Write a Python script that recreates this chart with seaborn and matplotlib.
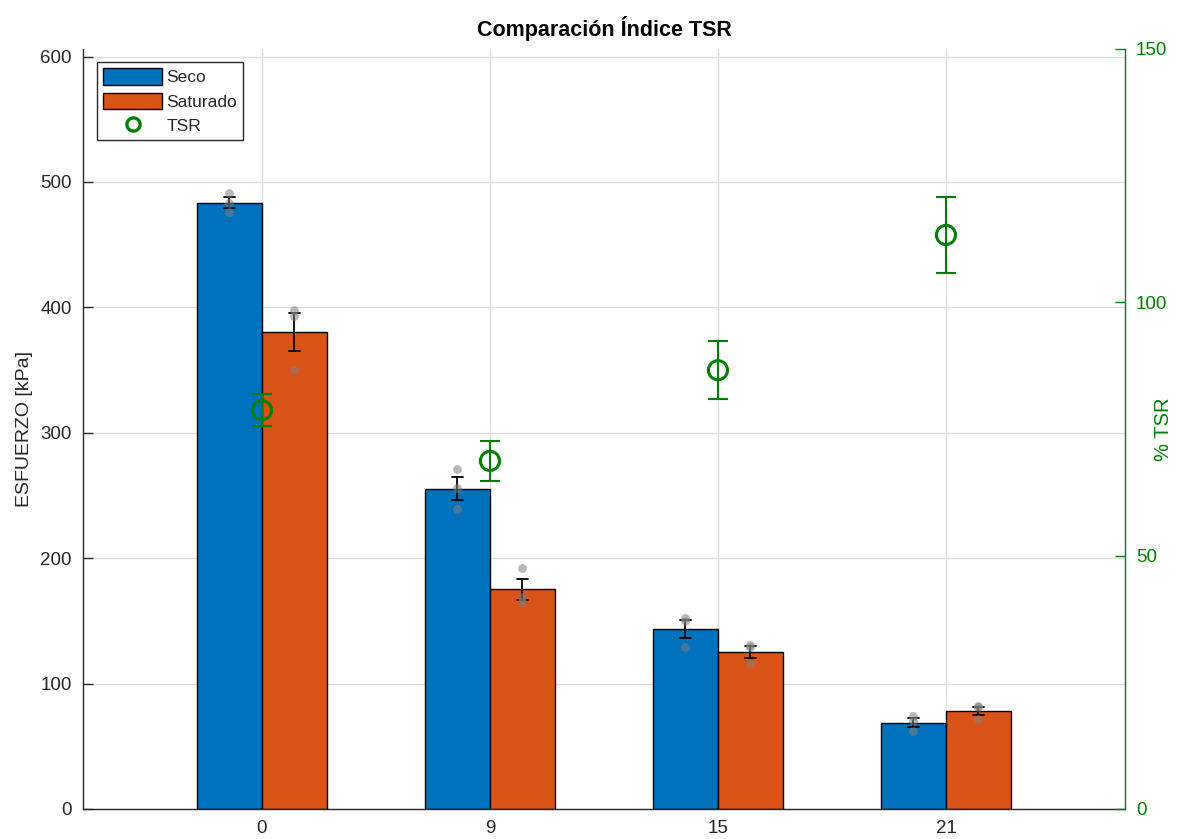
import pandas as pd
import matplotlib
matplotlib.use("Agg")
import matplotlib.pyplot as plt
import seaborn as sns
from matplotlib.patches import Patch
from matplotlib.lines import Line2D

# Data
categories = ["0", "9", "15", "21"]
seco_points = [[491, 483, 476], [271, 256, 239], [152, 150, 129], [74, 70, 62]]
saturado_points = [[398, 393, 350], [192, 169, 165], [131, 129, 116], [82, 81, 72]]
tsr_mean = [78.7, 68.7, 86.6, 113.3]
tsr_err = [3.2, 4.0, 5.7, 7.5]

BLUE = "#0072BD"
ORANGE = "#D95319"
GREEN = "#008000"
DARK = "#262626"
BAR_W = 0.57

rows = []
for i, (cat, pts) in enumerate(zip(categories, seco_points)):
    for p in pts:
        rows.append({"Grupo": cat, "Condicion": "Seco", "Esfuerzo": p, "pos": i - BAR_W / 4})
for i, (cat, pts) in enumerate(zip(categories, saturado_points)):
    for p in pts:
        rows.append({"Grupo": cat, "Condicion": "Saturado", "Esfuerzo": p, "pos": i + BAR_W / 4})
df = pd.DataFrame(rows)

sns.set_theme(style="whitegrid")
plt.rcParams["font.family"] = ["Liberation Sans", "DejaVu Sans"]

fig = plt.figure(figsize=(11.97, 8.39), dpi=100)
ax = fig.add_axes([0.0693, 0.0358, 0.8705, 0.9058])

sns.barplot(data=df, x="Grupo", y="Esfuerzo", hue="Condicion", order=categories,
            hue_order=["Seco", "Saturado"], palette=[BLUE, ORANGE], width=BAR_W,
            saturation=1, errorbar="se", capsize=0.1, edgecolor="black", linewidth=1,
            err_kws={"color": "black", "linewidth": 1.3}, ax=ax, zorder=2, legend=False)
sns.scatterplot(data=df, x="pos", y="Esfuerzo", color="#7f7f7f", s=40, alpha=0.55,
                linewidth=0, ax=ax, zorder=3, legend=False)

ax.set_xlim(-0.785, 3.785)
ax.set_ylim(0, 606)
ax.set_yticks(range(0, 601, 100))
ax.set_xticks(range(len(categories)))
ax.set_xticklabels(categories)
ax.set_xlabel("")
ax.set_ylabel("ESFUERZO [kPa]", fontsize=14, color=DARK, labelpad=5)
ax.set_title("Comparación Índice TSR", fontsize=15.5, fontweight="bold", color="black", pad=9)
ax.grid(True, color="#dedede", linewidth=0.9)
ax.set_axisbelow(True)
ax.tick_params(axis="both", direction="in", length=7, width=1, colors=DARK,
               labelsize=13.5, left=True, bottom=True)
ax.tick_params(axis="y", pad=8)
ax.tick_params(axis="x", pad=8)
for side in ["top", "right"]:
    ax.spines[side].set_visible(False)
for side in ["left", "bottom"]:
    ax.spines[side].set_color(DARK)
    ax.spines[side].set_linewidth(1)

ax2 = ax.twinx()
ax2.errorbar(range(len(categories)), tsr_mean, yerr=tsr_err, fmt="none",
             ecolor=GREEN, elinewidth=1.5, capsize=7, capthick=1.5, zorder=4)
sns.scatterplot(x=list(range(len(categories))), y=tsr_mean, ax=ax2, s=190,
                marker="o", facecolors="none", edgecolor=GREEN, linewidth=2.2,
                zorder=5)
ax2.set_ylim(0, 150)
ax2.set_yticks([0, 50, 100, 150])
ax2.set_ylabel("% TSR", fontsize=14.5, color=GREEN, labelpad=-10)
ax2.grid(False)
ax2.tick_params(axis="y", direction="in", length=7, width=1, colors=GREEN,
                labelsize=13.5, right=True, pad=8)
for side in ["top", "left", "bottom"]:
    ax2.spines[side].set_visible(False)
ax2.spines["right"].set_color(GREEN)
ax2.spines["right"].set_linewidth(1)

handles = [Patch(facecolor=BLUE, edgecolor="black", label="Seco"),
           Patch(facecolor=ORANGE, edgecolor="black", label="Saturado"),
           Line2D([], [], linestyle="none", marker="o", markersize=9.5, markerfacecolor="none",
                  markeredgecolor=GREEN, markeredgewidth=2.4, label="TSR")]
leg = ax2.legend(handles=handles, loc="upper left", bbox_to_anchor=(0.0135, 0.983),
                 fontsize=12.5, frameon=True, fancybox=False, edgecolor=DARK,
                 framealpha=1, handlelength=3.4, handleheight=1.1, borderpad=0.35,
                 labelspacing=0.42, handletextpad=0.25, borderaxespad=0)
leg.get_frame().set_linewidth(1)

fig.savefig("out.png", dpi=100)
